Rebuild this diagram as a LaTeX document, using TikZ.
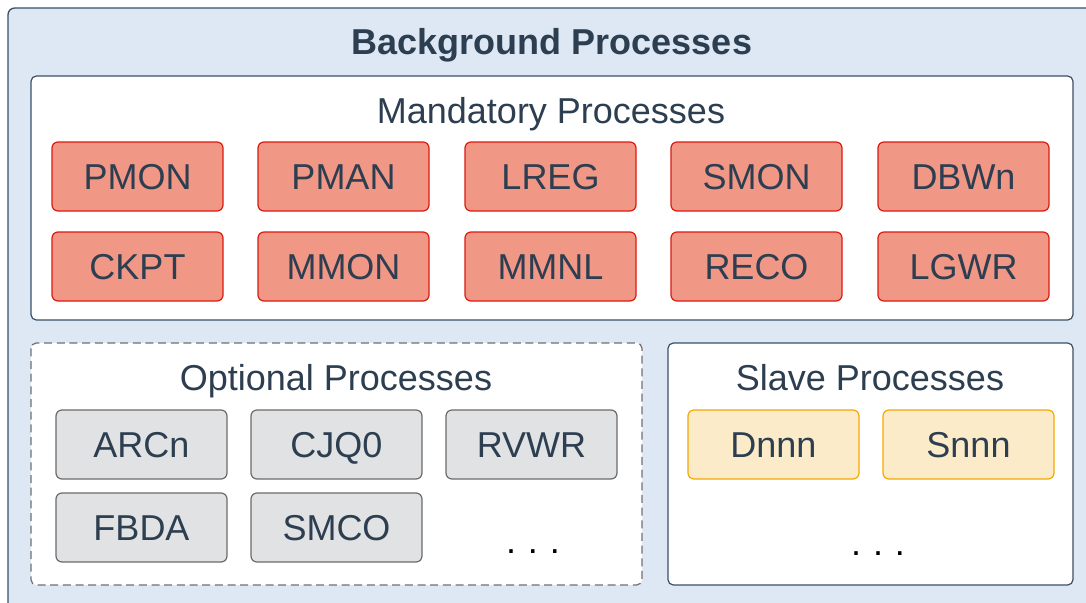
\documentclass[tikz,border=0pt]{standalone}
\usepackage{fontspec}
\setmainfont{Liberation Sans}
\definecolor{bgblue}{HTML}{DDE8F4}
\definecolor{frame}{HTML}{3A4F66}
\definecolor{txt}{HTML}{2C3E50}
\definecolor{redfill}{HTML}{F09786}
\definecolor{redline}{HTML}{DD1A10}
\definecolor{greyfill}{HTML}{E1E2E4}
\definecolor{greyline}{HTML}{6B6B6B}
\definecolor{yelfill}{HTML}{FCEBC8}
\definecolor{yelline}{HTML}{F5A800}
\definecolor{dashline}{HTML}{707070}
\tikzset{
  proc/.style={rounded corners=4.5pt, line width=0.9pt, minimum width=128.25pt, minimum height=51.75pt,
    text height=19.3pt, text depth=0pt, inner sep=0pt, text=txt, font=\fontsize{27}{32}\selectfont},
  mand/.style={proc, fill=redfill, draw=redline},
  opt/.style={proc, fill=greyfill, draw=greyline},
  slv/.style={proc, fill=yelfill, draw=yelline},
  ttl/.style={anchor=base, text=txt, inner sep=0pt, font=\fontsize{27}{32}\selectfont},
  dots/.style={anchor=base, text=black, inner sep=0pt, font=\fontsize{27}{32}\selectfont},
  panel/.style={rounded corners=4pt, line width=0.9pt, fill=white}
}
\begin{document}
\begin{tikzpicture}[x=0.75pt,y=-0.75pt]
\useasboundingbox (0,0) rectangle (1086,603);
\clip (0,0) rectangle (1086,603);
% outer
\draw[rounded corners=5pt, line width=1pt, fill=bgblue, draw=frame] (8,8) rectangle (1110,630);
\node[ttl, font=\fontsize{27}{32}\selectfont\bfseries] (bgt) at (552,55) {Background Processes};
% mandatory
\draw[panel, draw=frame] (31,76) rectangle (1073,320);
\node[ttl] (mt) at (551,123) {Mandatory Processes};
\node[mand] (pmon) at (137.5,176.5) {PMON};
\node[mand] (pman) at (343.5,176.5) {PMAN};
\node[mand] (lreg) at (550.5,176.5) {LREG};
\node[mand] (smon) at (756.5,176.5) {SMON};
\node[mand] (dbwn) at (963.5,176.5) {DBWn};
\node[mand] (ckpt) at (137.5,266.5) {CKPT};
\node[mand] (mmon) at (343.5,266.5) {MMON};
\node[mand] (mmnl) at (550.5,266.5) {MMNL};
\node[mand] (reco) at (756.5,266.5) {RECO};
\node[mand] (lgwr) at (963.5,266.5) {LGWR};
% optional
\draw[panel, draw=dashline, dash pattern=on 6pt off 3.5pt] (31,343) rectangle (642,585);
\node[ttl] (ot) at (336,390) {Optional Processes};
\node[opt] (arcn) at (141.5,444.5) {ARCn};
\node[opt] (cjq) at (336.5,444.5) {CJQ0};
\node[opt] (rvwr) at (531.5,444.5) {RVWR};
\node[opt] (fbda) at (141.5,527.5) {FBDA};
\node[opt] (smco) at (336.5,527.5) {SMCO};
\node[dots] (od) at (533,553) {.\hspace{9pt}.\hspace{9pt}.};
% slave
\draw[panel, draw=frame] (668,343) rectangle (1073,585);
\node[ttl] (st) at (870,390) {Slave Processes};
\node[dots] (sd) at (878,555) {.\hspace{9pt}.\hspace{9pt}.};
\node[slv] (dnnn) at (773.5,444.5) {Dnnn};
\node[slv] (snnn) at (968.5,444.5) {Snnn};
\end{tikzpicture}
\end{document}
